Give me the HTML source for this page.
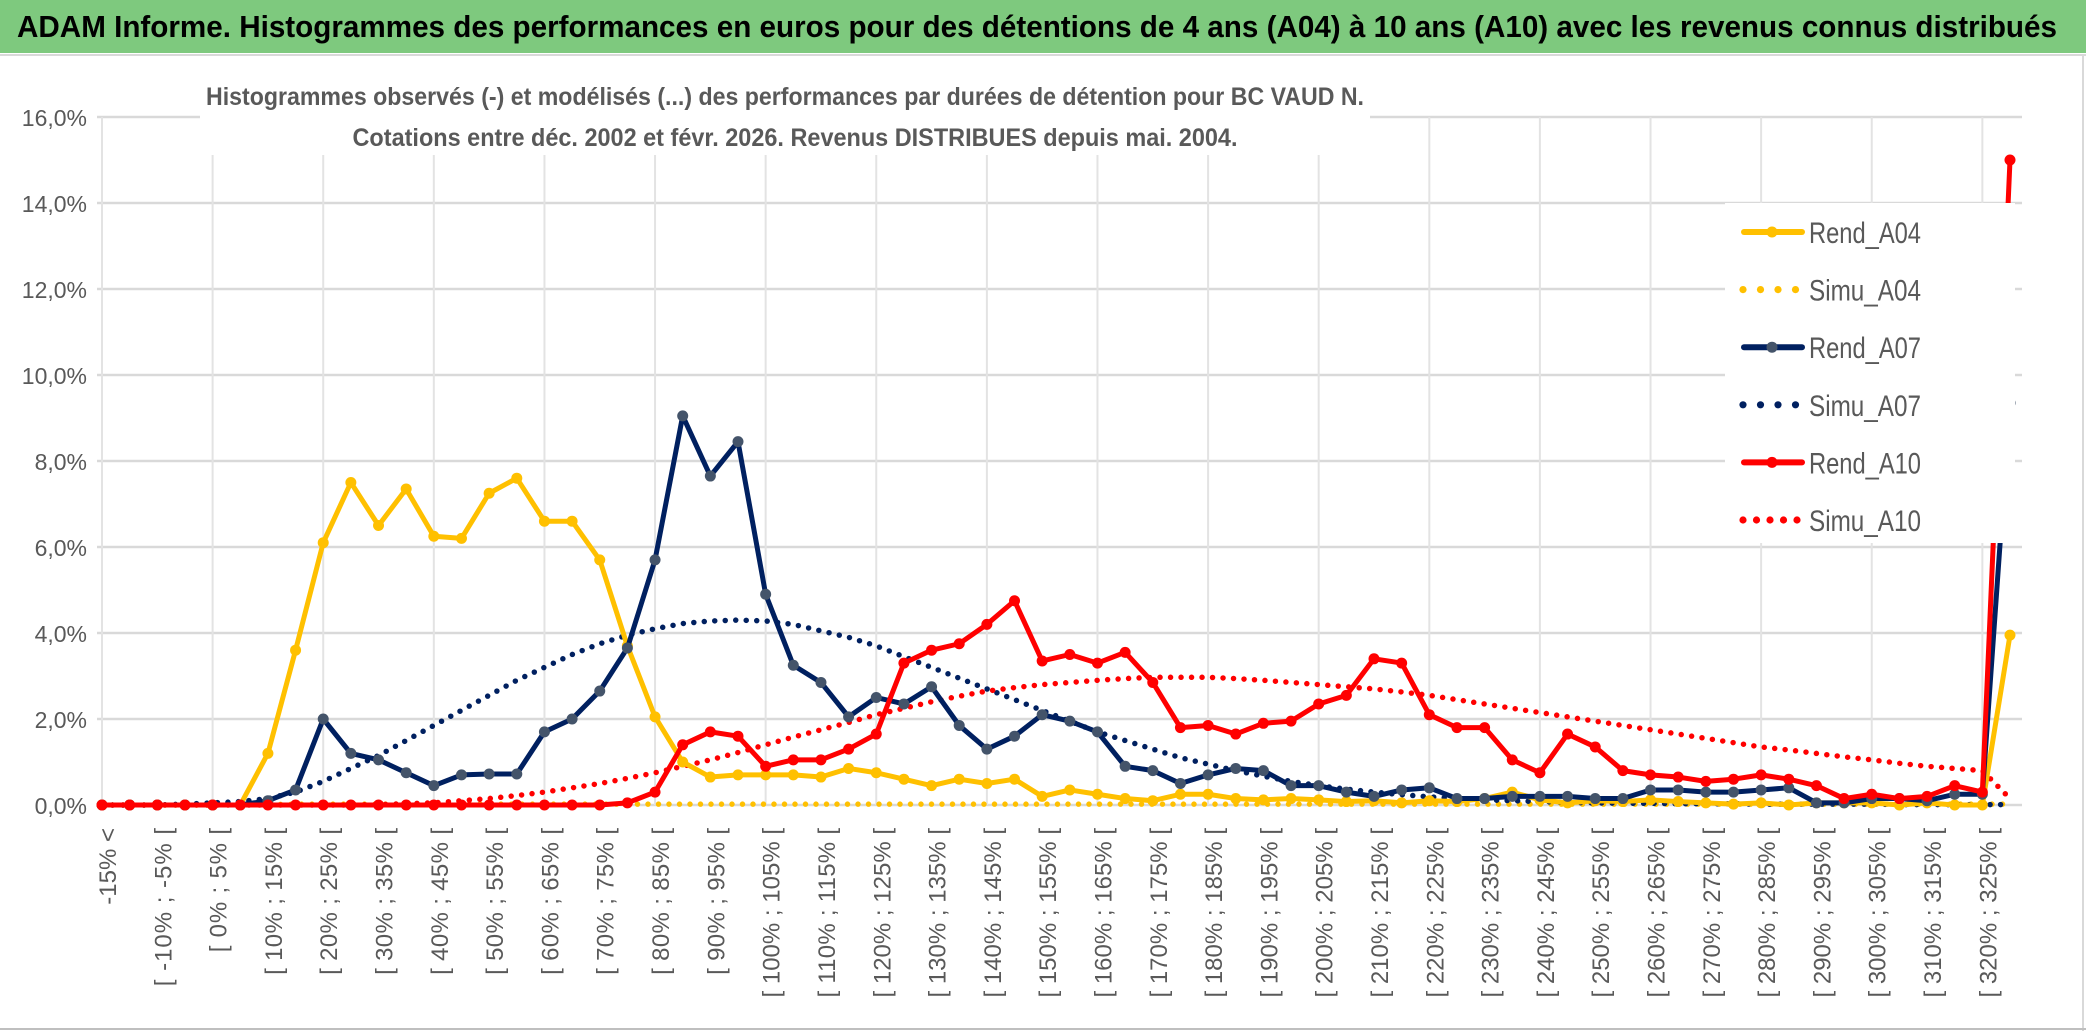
<!DOCTYPE html>
<html><head><meta charset="utf-8"><style>
html,body{margin:0;padding:0;background:#fff;}
svg{display:block;}
text{font-family:"Liberation Sans Narrow","Liberation Sans",sans-serif;}
</style></head><body>
<svg id="chart" width="2086" height="1031" viewBox="0 0 2086 1031" xmlns="http://www.w3.org/2000/svg">
<rect x="0" y="0" width="2086" height="1031" fill="#fff"/>
<rect x="0" y="0" width="2086" height="53" fill="#7ec97e"/>
<text x="1037" y="37" text-anchor="middle" font-size="31" font-weight="bold" fill="#000" textLength="2040" lengthAdjust="spacingAndGlyphs">ADAM Informe. Histogrammes des performances en euros pour des détentions de 4 ans (A04) à 10 ans (A10) avec les revenus connus distribués</text>
<line x1="0" y1="55" x2="2086" y2="55" stroke="#d9d9d9" stroke-width="2"/>
<line x1="2083" y1="55" x2="2083" y2="1031" stroke="#d9d9d9" stroke-width="2"/>
<line x1="0" y1="1029" x2="2086" y2="1029" stroke="#bfbfbf" stroke-width="2"/>
<g id="grid"></g>
<rect x="200" y="80" width="1170" height="75" fill="#fff"/>
<text x="785" y="105" text-anchor="middle" font-size="25" font-weight="bold" fill="#595959" textLength="1158" lengthAdjust="spacingAndGlyphs">Histogrammes observés (-) et modélisés (...) des performances par durées de détention pour BC VAUD N.</text>
<text x="795" y="146" text-anchor="middle" font-size="25" font-weight="bold" fill="#595959" textLength="885" lengthAdjust="spacingAndGlyphs">Cotations entre déc. 2002 et févr. 2026. Revenus DISTRIBUES depuis mai. 2004.</text>
<g id="yticks"></g>
<g id="xticks"></g>
<g id="series"></g>
<g id="legend"></g>
</svg>
<script>
const categories = (function(){const c=["-15% <"];for(let a=-15;a<=320;a+=5){c.push("[ "+a+"% ; "+(a+5)+"% [");}c.push("> 325%");return c;})();
const yTicks = [0,2,4,6,8,10,12,14,16];
const rendA04 = [0,0,0,0,0,0,1.2,3.6,6.1,7.5,6.5,7.35,6.25,6.2,7.25,7.6,6.6,6.6,5.7,3.7,2.05,1.0,0.65,0.7,0.7,0.7,0.65,0.85,0.75,0.6,0.45,0.6,0.5,0.6,0.2,0.35,0.25,0.15,0.1,0.25,0.25,0.15,0.12,0.15,0.12,0.08,0.1,0.05,0.1,0.08,0.15,0.3,0.12,0.05,0.1,0.08,0.12,0.08,0.05,0.02,0.05,0,0.05,0.05,0.05,0,0.05,0,0,3.95];
const simuA04 = [0,0,0,0,0,0.01,0.01,0.02,0.02,0.02,0.02,0.02,0.02,0.02,0.02,0.02,0.02,0.02,0.02,0.02,0.02,0.02,0.02,0.02,0.02,0.02,0.02,0.02,0.02,0.02,0.02,0.02,0.02,0.02,0.02,0.02,0.02,0.02,0.02,0.02,0.02,0.02,0.02,0.02,0.02,0.02,0.02,0.02,0.02,0.02,0.02,0.02,0.02,0.02,0.02,0.02,0.02,0.02,0.02,0.02,0.02,0.02,0.02,0.02,0.02,0.02,0.02,0.02,0.02,0.02];
const rendA07 = [0,0,0,0,0,0,0.1,0.35,2.0,1.2,1.05,0.75,0.45,0.7,0.72,0.72,1.7,2.0,2.65,3.65,5.7,9.05,7.65,8.45,4.9,3.25,2.85,2.05,2.5,2.35,2.75,1.85,1.3,1.6,2.1,1.95,1.7,0.9,0.8,0.5,0.7,0.85,0.8,0.45,0.45,0.3,0.2,0.35,0.4,0.15,0.15,0.2,0.2,0.2,0.15,0.15,0.35,0.35,0.3,0.3,0.35,0.4,0.05,0.05,0.15,0.15,0.1,0.25,0.25,9.35];
const simuA07 = [0,0,0,0.02,0.05,0.08,0.15,0.3,0.55,0.85,1.15,1.5,1.85,2.2,2.55,2.9,3.2,3.5,3.75,3.95,4.1,4.22,4.28,4.3,4.28,4.2,4.05,3.9,3.7,3.45,3.2,2.95,2.7,2.45,2.2,1.95,1.7,1.5,1.3,1.1,0.95,0.8,0.67,0.55,0.45,0.37,0.3,0.24,0.19,0.15,0.12,0.1,0.08,0.06,0.05,0.04,0.04,0.03,0.03,0.03,0.02,0.02,0.02,0.02,0.02,0.01,0.01,0.01,0.01,0.01];
const rendA10 = [0,0,0,0,0,0,0,0,0,0,0,0,0,0,0,0,0,0,0,0.05,0.3,1.4,1.7,1.6,0.9,1.05,1.05,1.3,1.65,3.3,3.6,3.75,4.2,4.75,3.35,3.5,3.3,3.55,2.85,1.8,1.85,1.65,1.9,1.95,2.35,2.55,3.4,3.3,2.1,1.8,1.8,1.05,0.75,1.65,1.35,0.8,0.7,0.65,0.55,0.6,0.7,0.6,0.45,0.15,0.25,0.15,0.2,0.45,0.3,15.0];
const simuA10 = [0,0,0,0,0,0,0,0,0,0,0.01,0.03,0.05,0.1,0.15,0.22,0.3,0.4,0.5,0.62,0.75,0.9,1.05,1.22,1.4,1.58,1.75,1.92,2.1,2.25,2.4,2.53,2.65,2.73,2.8,2.85,2.9,2.94,2.97,2.97,2.97,2.94,2.9,2.85,2.8,2.75,2.7,2.63,2.55,2.45,2.35,2.25,2.15,2.05,1.95,1.85,1.75,1.65,1.55,1.45,1.35,1.28,1.2,1.12,1.05,0.97,0.9,0.85,0.8,0.15];

const NS="http://www.w3.org/2000/svg";
const X0=102,X1=2010,Y0=805,Y16=117;
function xs(i){return X0+i*(X1-X0)/(categories.length-1);}
function ys(v){return Y0-(v/16)*(Y0-Y16);}
function mk(tag,attrs,parent){const e=document.createElementNS(NS,tag);for(const k in attrs)e.setAttribute(k,attrs[k]);parent.appendChild(e);return e;}

const grid=document.getElementById('grid');
yTicks.forEach(t=>{
  const l=mk('line',{x1:X0-5,x2:2022,y1:ys(t),y2:ys(t),stroke:'#d9d9d9','stroke-width':2.5},grid);
  
  
});
for(let i=0;i<categories.length;i+=4){
  const l=mk('line',{x1:xs(i),x2:xs(i),y1:Y16,y2:Y0,stroke:'#e3e3e3','stroke-width':2},grid);
  
  
}
const yt=document.getElementById('yticks');
yTicks.forEach(t=>{
  const tx=mk('text',{x:87,y:ys(t)+9,'text-anchor':'end','font-size':23,fill:'#595959'},yt);
  tx.textContent=t.toFixed(1).replace('.',',')+'%';
  
  
});
const xt=document.getElementById('xticks');
for(let i=0;i<categories.length-1;i+=2){
  const x=xs(i)+14;
  const lab=categories[i];
  const at={x:x,y:828,transform:'rotate(-90 '+x+' 828)','text-anchor':'end','font-size':24,fill:'#595959','font-family':'"Liberation Sans",sans-serif'};
  if(i>0){at.textLength=(lab.length*11.3).toFixed(1);at.lengthAdjust='spacing';}
  const tx=mk('text',at,xt);
  tx.textContent=lab;
  
  
}
const sg=document.getElementById('series');
function pts(arr){return arr.map((v,i)=>xs(i)+','+ys(v)).join(' ');}
function dotted(arr,color,name){
  const p=mk('polyline',{points:pts(arr),fill:'none',stroke:color,'stroke-width':5.5,'stroke-linecap':'round','stroke-dasharray':'0 10.5'},sg);
  
  
}
function solid(arr,color,mcolor,name){
  const p=mk('polyline',{points:pts(arr),fill:'none',stroke:color,'stroke-width':5,'stroke-linejoin':'round'},sg);
  
  
  arr.forEach((v,i)=>{
    const c=mk('circle',{cx:xs(i),cy:ys(v),r:5.5,fill:mcolor},sg);
    
    
  });
}
dotted(simuA04,'#ffc000','simu-a04-line');
dotted(simuA07,'#002060','simu-a07-line');
dotted(simuA10,'#ff0000','simu-a10-line');
solid(rendA04,'#ffc000','#ffc000','rend-a04-line');
solid(rendA07,'#002060','#44546a','rend-a07-line');
solid(rendA10,'#ff0000','#ff0000','rend-a10-line');

const lg=document.getElementById('legend');
const lb=mk('rect',{x:1725,y:203,width:290,height:340,fill:'#fff'},lg);


const entries=[['Rend_A04','#ffc000','#ffc000',false],['Simu_A04','#ffc000','',true],['Rend_A07','#002060','#44546a',false],['Simu_A07','#002060','',true],['Rend_A10','#ff0000','#ff0000',false],['Simu_A10','#ff0000','',true]];
entries.forEach((e,k)=>{
  const y=232+k*57.6;
  const g=mk('g',{},lg);
  
  
  if(e[3]){
    const n=e[0]==='Simu_A10'?5:4;
    for(let j=0;j<n;j++){mk('circle',{cx:1743+j*(e[0]==='Simu_A10'?13.5:17.5),cy:y,r:3.6,fill:e[1]},g);}
  }else{
    mk('line',{x1:1744,x2:1802,y1:y,y2:y,stroke:e[1],'stroke-width':6,'stroke-linecap':'round'},g);
    mk('circle',{cx:1772,cy:y,r:5.5,fill:e[2]},g);
  }
  const t=mk('text',{x:1809,y:y+11,'font-size':30,fill:'#595959',textLength:112,lengthAdjust:'spacingAndGlyphs'},g);
  t.textContent=e[0];
});
</script>
</body></html>
